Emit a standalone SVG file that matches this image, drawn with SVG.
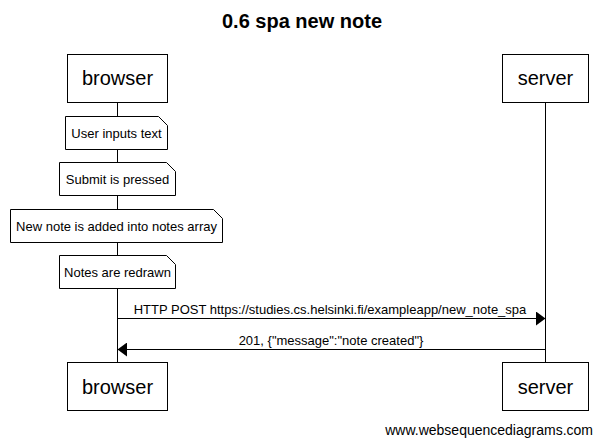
<svg xmlns="http://www.w3.org/2000/svg" width="603" height="445" viewBox="0 0 603 445">
<style>
text{font-family:"Liberation Sans",Arial,sans-serif;fill:#000}
.title{font-size:20px;font-weight:bold;text-anchor:middle}
.actor rect{fill:#fff;stroke:#000;stroke-width:1}
.actor text{font-size:20px;text-anchor:middle}
.note path{fill:#fff;stroke:#000;stroke-width:1}
.note text{font-size:13px;text-anchor:middle}
.life{stroke:#000;stroke-width:1;fill:none}
.msg{stroke:#000;stroke-width:1;fill:none}
.lbl{font-size:13px;text-anchor:middle}
.foot{font-size:14px;text-anchor:end}
</style>
<defs>
<marker id="ah" markerWidth="10" markerHeight="14" refX="9.5" refY="7" orient="auto" markerUnits="userSpaceOnUse">
<path d="M0,0 L9.5,7 L0,14 Z" fill="#000"/>
</marker>
</defs>
<rect width="603" height="445" fill="#fff"/>
<text class="title" x="302" y="28">0.6 spa new note</text>
<g id="lifelines">
<line class="life" x1="117.5" y1="103" x2="117.5" y2="362"/>
<line class="life" x1="545.5" y1="103" x2="545.5" y2="362"/>
</g>
<g id="browser-top" class="actor"><rect x="67.5" y="54.5" width="100" height="48"/><text x="117.5" y="85">browser</text></g>
<g id="server-top" class="actor"><rect x="502.5" y="54.5" width="86" height="48"/><text x="545.5" y="85">server</text></g>
<g id="browser-bottom" class="actor"><rect x="67.5" y="362.5" width="100" height="48"/><text x="117.5" y="394">browser</text></g>
<g id="server-bottom" class="actor"><rect x="502.5" y="362.5" width="86" height="48"/><text x="545.5" y="394">server</text></g>
<g id="note1" class="note"><path d="M65.5,116.5 H158.5 L167.5,125.5 V149.5 H65.5 Z"/><text x="116.5" y="137.5">User inputs text</text></g>
<g id="note2" class="note"><path d="M59.5,162.5 H166.5 L175.5,171.5 V195.5 H59.5 Z"/><text x="117.5" y="184">Submit is pressed</text></g>
<g id="note3" class="note"><path d="M10.5,209.5 H213.5 L222.5,218.5 V242.5 H10.5 Z"/><text x="116.5" y="230.5">New note is added into notes array</text></g>
<g id="note4" class="note"><path d="M59.5,255.5 H166.5 L175.5,264.5 V288.5 H59.5 Z"/><text x="117.5" y="277">Notes are redrawn</text></g>
<g id="connectors">
<line class="msg" x1="117.5" y1="318.5" x2="545.5" y2="318.5" marker-end="url(#ah)"/>
<text class="lbl" x="330" y="314">HTTP POST https://studies.cs.helsinki.fi/exampleapp/new_note_spa</text>
<line class="msg" x1="545.5" y1="349.5" x2="117.5" y2="349.5" marker-end="url(#ah)"/>
<text class="lbl" x="331" y="345">201, {"message":"note created"}</text>
</g>
<text class="foot" x="593" y="435">www.websequencediagrams.com</text>
</svg>
